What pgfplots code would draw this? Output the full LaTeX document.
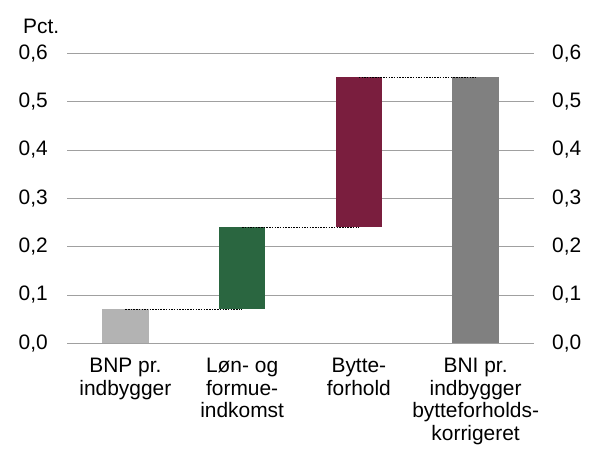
\documentclass[border=0pt]{standalone}
\usepackage{pgfplots}
\pgfplotsset{compat=1.18}
\usepackage{fontspec}
\setmainfont{Liberation Sans}
\definecolor{lgray}{HTML}{B3B3B3}
\definecolor{dgreen}{HTML}{2A6640}
\definecolor{maroon}{HTML}{7A1E3E}
\definecolor{mgray}{HTML}{808080}
\definecolor{gridc}{HTML}{A0A0A0}
\begin{document}
\begin{tikzpicture}
\useasboundingbox (0,0) rectangle (595bp,-450bp);
\pgfplotsset{
  common/.style={
    scale only axis, width=467bp, height=290bp,
    at={(67bp,-343.3bp)}, anchor=south west,
    xmin=0.5, xmax=4.5, ymin=0, ymax=0.6,
    ytick={0,0.1,...,0.6},
    /pgf/number format/assume math mode=true,
    /pgf/number format/.cd, use comma, fixed, fixed zerofill, precision=1, /pgfplots/.cd,
    tick label style={font=\fontsize{21}{22.5}\selectfont},
    y axis line style={draw=none},
    ytick style={draw=none},
  }
}
\begin{axis}[common,
  axis y line*=left, axis x line*=bottom,
  x axis line style={draw=gridc, line width=0.8bp, -},
  ymajorgrids, grid style={draw=gridc, line width=0.8bp},
  yticklabel style={anchor=east, inner sep=0pt, xshift=-19bp},
  xtick={1,2,3,4},
  xticklabels={{BNP pr.\\indbygger},{Løn- og\\formue-\\indkomst},{Bytte-\\forhold},{BNI pr.\\indbygger\\bytteforholds-\\korrigeret}},
  xticklabel style={align=center, anchor=north, inner sep=0pt, yshift=-15bp},
  major x tick style={draw=none},
  extra x ticks={0.5,1.5,2.5,3.5,4.5},
  extra x tick labels={},
  extra x tick style={major tick length=5bp, tick align=outside, grid=none, tick style={draw=gridc, line width=0.8bp}},
  ybar stacked, bar width=0.4,
  clip=false,
]
\addplot[draw=none, fill=none] coordinates {(1,0) (2,0.07) (3,0.24) (4,0)};
\addplot[draw=none, fill=lgray] coordinates {(1,0.07) (2,0) (3,0) (4,0)};
\addplot[draw=none, fill=dgreen] coordinates {(1,0) (2,0.17) (3,0) (4,0)};
\addplot[draw=none, fill=maroon] coordinates {(1,0) (2,0) (3,0.31) (4,0)};
\addplot[draw=none, fill=mgray] coordinates {(1,0) (2,0) (3,0) (4,0.55)};
\end{axis}
\begin{axis}[common,
  axis y line*=right, axis x line=none,
  xtick=\empty,
  yticklabel style={anchor=west, inner sep=0pt, xshift=18bp},
]
\addplot[black, line width=1bp, dash pattern=on 1.5bp off 1.2bp] coordinates {(1,0.07) (2,0.07)};
\addplot[black, line width=1bp, dash pattern=on 1.5bp off 1.2bp] coordinates {(2,0.24) (3,0.24)};
\addplot[black, line width=1bp, dash pattern=on 1.5bp off 1.2bp] coordinates {(3,0.55) (4,0.55)};
\end{axis}
\node[anchor=base west, inner sep=0pt, font=\fontsize{21}{22.5}\selectfont] at (23bp,-33bp) {Pct.};
\end{tikzpicture}
\end{document}
